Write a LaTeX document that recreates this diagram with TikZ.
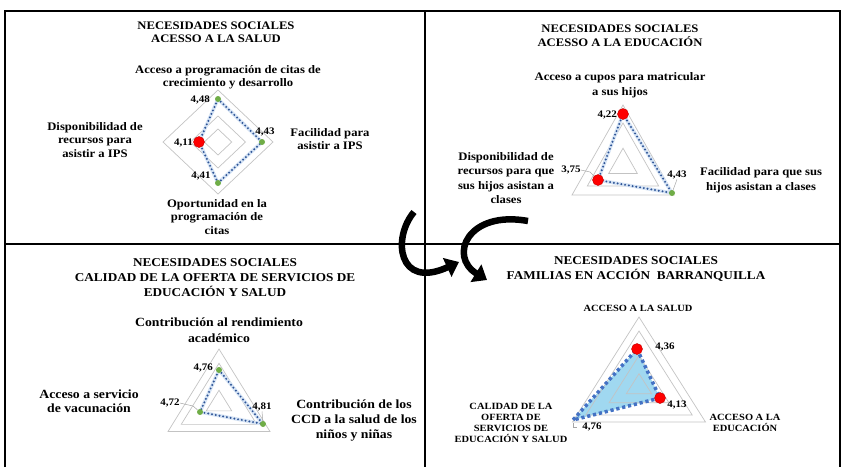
\documentclass[tikz,border=0pt]{standalone}
\usepackage{fontspec}
\setmainfont{Liberation Serif}[FakeStretch=1.1]
\usetikzlibrary{arrows.meta}
\definecolor{ptgreen}{RGB}{112,173,71}
\definecolor{ptred}{RGB}{255,0,0}
\definecolor{serieblue}{RGB}{47,85,151}
\definecolor{halo}{RGB}{214,228,245}
\definecolor{areablue}{RGB}{68,114,196}
\definecolor{areafill}{RGB}{160,216,240}
\definecolor{ringgray}{RGB}{195,195,195}
\begin{document}
\begin{tikzpicture}[x=1pt,y=-1pt]

      \tikzset{ttl/.style={font=\bfseries\fontsize{11.5}{12.5}\selectfont, align=center, inner sep=0pt},
               ttlbig/.style={font=\bfseries\fontsize{12}{15}\selectfont, align=center, inner sep=0pt},
               lbl/.style={font=\bfseries\fontsize{11.5}{13.5}\selectfont, align=center, inner sep=0pt},
               lblbig/.style={font=\bfseries\fontsize{12.5}{15}\selectfont, align=center, inner sep=0pt},
               lblsmall/.style={font=\bfseries\fontsize{9.5}{11}\selectfont, align=center, inner sep=0pt},
               val/.style={font=\bfseries\fontsize{10}{11}\selectfont, inner sep=0pt},
               ring/.style={draw=ringgray, line width=0.7pt},
               lowpt/.style={circle, fill=ptred, draw=ptred!75!black, line width=0.4pt, inner sep=0pt, minimum size=11pt},
               okpt/.style={circle, fill=ptgreen, inner sep=0pt, minimum size=6pt},
               band/.style={draw=halo, line width=3.5pt, line join=round},
               serie/.style={draw=serieblue, line width=2.2pt, line cap=round, dash pattern=on 0pt off 3.8pt},
               area/.style={draw=areablue, line width=3.5pt, dash pattern=on 3.2pt off 2.8pt},
               lead/.style={draw=gray!70, line width=0.5pt},
               frame/.style={draw=black, line width=1.2pt},
               bigarrow/.style={line width=6.5pt, -{Triangle[length=13pt,width=20pt]}}}

      \useasboundingbox (0,0) rectangle (841,467);

% Frames
      	\draw[frame] (5,467) -- (5,11) -- (840,11) -- (840,467);
      	\draw[frame, line width=2pt] (5,244) -- (840,244);
      	\draw[frame, line width=2.2pt] (425,11) -- (425,467);

% Salud
      	\node[ttl] (t1) at (216,32) {NECESIDADES SOCIALES\\ACESSO A LA SALUD};
      	\node[lbl] (l1a) at (228,77) {Acceso a programación de citas de\\crecimiento y desarrollo};
      	\node[lbl] (l1b) at (330,139) {Facilidad para\\asistir a IPS};
      	\node[lbl] (l1c) at (217,217) {Oportunidad en la\\programación de\\citas};
      	\node[lbl] (l1d) at (95,140) {Disponibilidad de\\recursos para\\asistir a IPS};
      	\foreach \k in {1,0.5,0.25}
      	  \draw[ring] (218,142-52*\k) -- (218+55*\k,142) -- (218,142+52*\k) -- (218-55*\k,142) -- cycle;
      	\coordinate (q1a) at (218,99);
      	\coordinate (q1b) at (262,142);
      	\coordinate (q1c) at (218,183);
      	\coordinate (q1d) at (199,142);
      	\draw[band] (q1a) -- (q1b) -- (q1c) -- (q1d) -- cycle;
      	\draw[serie] (q1a) -- (q1b) -- (q1c) -- (q1d) -- cycle;
      	\node[okpt] (p1a) at (q1a) {};
      	\node[okpt] (p1b) at (q1b) {};
      	\node[okpt] (p1c) at (q1c) {};
      	\node[lowpt] (p1d) at (q1d) {};
      	\node[val, anchor=east] (v1a) at (210,100) {4,48};
      	\node[val] (v1b) at (265,132) {4,43};
      	\node[val, anchor=east] (v1d) at (193,143) {4,11};
      	\node[val] (v1c) at (201,176) {4,41};

% Educacion
      	\node[ttl, font=\bfseries\fontsize{11.5}{14}\selectfont] (t2) at (620,36) {NECESIDADES SOCIALES\\ACESSO A LA EDUCACIÓN};
      	\node[lbl, font=\bfseries\fontsize{11.5}{15}\selectfont] (l2a) at (620,85) {Acceso a cupos para matricular\\a sus hijos};
      	\node[lbl, font=\bfseries\fontsize{11.5}{14.5}\selectfont] (l2b) at (761,180) {Facilidad para que sus\\hijos asistan a clases};
      	\node[lbl, font=\bfseries\fontsize{11.5}{14.3}\selectfont] (l2c) at (506,178) {Disponibilidad de\\recursos para que\\sus hijos asistan a\\clases};
      	\foreach \k in {1,0.7,0.28}
      	  \draw[ring] (623,165-60*\k) -- (623+51*\k,165+30*\k) -- (623-51*\k,165+30*\k) -- cycle;
      	\coordinate (q2a) at (623,114);
      	\coordinate (q2b) at (672,193);
      	\coordinate (q2c) at (598,180);
      	\draw[band] (q2a) -- (q2b) -- (q2c) -- cycle;
      	\draw[serie] (q2a) -- (q2b) -- (q2c) -- cycle;
      	\node[lowpt] (p2a) at (q2a) {};
      	\node[okpt] (p2b) at (q2b) {};
      	\node[lowpt] (p2c) at (q2c) {};
      	\node[val, anchor=east] (v2a) at (617,115) {4,22};
      	\node[val] (v2b) at (677,175) {4,43};
      	\node[val] (v2c) at (571,170) {3,75};
      	\draw[lead] (v2c.east) -- (590,172) -- (p2c);
      	\draw[lead] (v2b.south) -- (p2b);

% Calidad de la oferta
      	\node[ttlbig] (t3) at (215,278) {NECESIDADES SOCIALES\\CALIDAD DE LA OFERTA DE SERVICIOS DE\\EDUCACIÓN Y SALUD};
      	\node[lblbig, font=\bfseries\fontsize{12.5}{16}\selectfont] (l3a) at (219,330) {Contribución al rendimiento\\académico};
      	\node[lblbig] (l3b) at (354,420) {Contribución de los\\CCD a la salud de los\\niños y niñas};
      	\node[lblbig, font=\bfseries\fontsize{12.5}{13.5}\selectfont] (l3c) at (89,401) {Acceso a servicio\\de vacunación};
      	\foreach \k in {1,0.74,0.25}
      	  \draw[ring] (219,404-55*\k) -- (219+51*\k,404+27.5*\k) -- (219-51*\k,404+27.5*\k) -- cycle;
      	\coordinate (q3a) at (219,370);
      	\coordinate (q3b) at (263,424);
      	\coordinate (q3c) at (200,412);
      	\draw[band] (q3a) -- (q3b) -- (q3c) -- cycle;
      	\draw[serie] (q3a) -- (q3b) -- (q3c) -- cycle;
      	\node[okpt] (p3a) at (q3a) {};
      	\node[okpt] (p3b) at (q3b) {};
      	\node[okpt] (p3c) at (q3c) {};
      	\node[val, anchor=east] (v3a) at (213,368) {4,76};
      	\node[val] (v3b) at (262,407) {4,81};
      	\node[val] (v3c) at (170,403) {4,72};
      	\draw[lead] (v3c.east) -- (193,406) -- (p3c);
      	\draw[lead] (v3b.south) -- (p3b);

% Familias en Accion
      	\node[ttlbig] (t4) at (636,269) {NECESIDADES SOCIALES\\FAMILIAS EN ACCIÓN~ BARRANQUILLA};
      	\node[lblsmall] (l4a) at (638,308) {ACCESO A LA SALUD};
      	\node[lblsmall] (l4b) at (745,423) {ACCESO A LA\\EDUCACIÓN};
      	\node[lblsmall] (l4c) at (511,423) {CALIDAD DE LA\\OFERTA DE\\SERVICIOS DE\\EDUCACIÓN Y SALUD};
      	\coordinate (q4a) at (637,349);
      	\coordinate (q4b) at (660,398);
      	\coordinate (q4c) at (573,420);
      	\fill[areafill] (q4a) -- (q4b) -- (q4c) -- cycle;
      	\foreach \k in {1,0.8,0.45,0.19}
      	  \draw[ring] (639,387-70*\k) -- (639+66.5*\k,387+35*\k) -- (639-66.5*\k,387+35*\k) -- cycle;
      	\draw[area] (q4a) -- (q4b) -- (q4c) -- cycle;
      	\node[lowpt] (p4a) at (q4a) {};
      	\node[lowpt] (p4b) at (q4b) {};
      	\node[val] (v4a) at (665,347) {4,36};
      	\node[val] (v4b) at (677,405) {4,13};
      	\node[val] (v4c) at (592,427) {4,76};
      	\draw[lead] ([yshift=-3pt]q4c) -- ++(0,4) -- ++(4,0);

% Arrows
      	\coordinate (a1s) at (414,212);
      	\coordinate (a1e) at (459,262);
      	\coordinate (a2s) at (528,221);
      	\coordinate (a2e) at (487,280);
      	\draw[bigarrow] (a1s) .. controls (392,238) and (398,290) .. (a1e);
      	\draw[bigarrow] (a2s) .. controls (468,210) and (448,256) .. (a2e);

\end{tikzpicture}
\end{document}
